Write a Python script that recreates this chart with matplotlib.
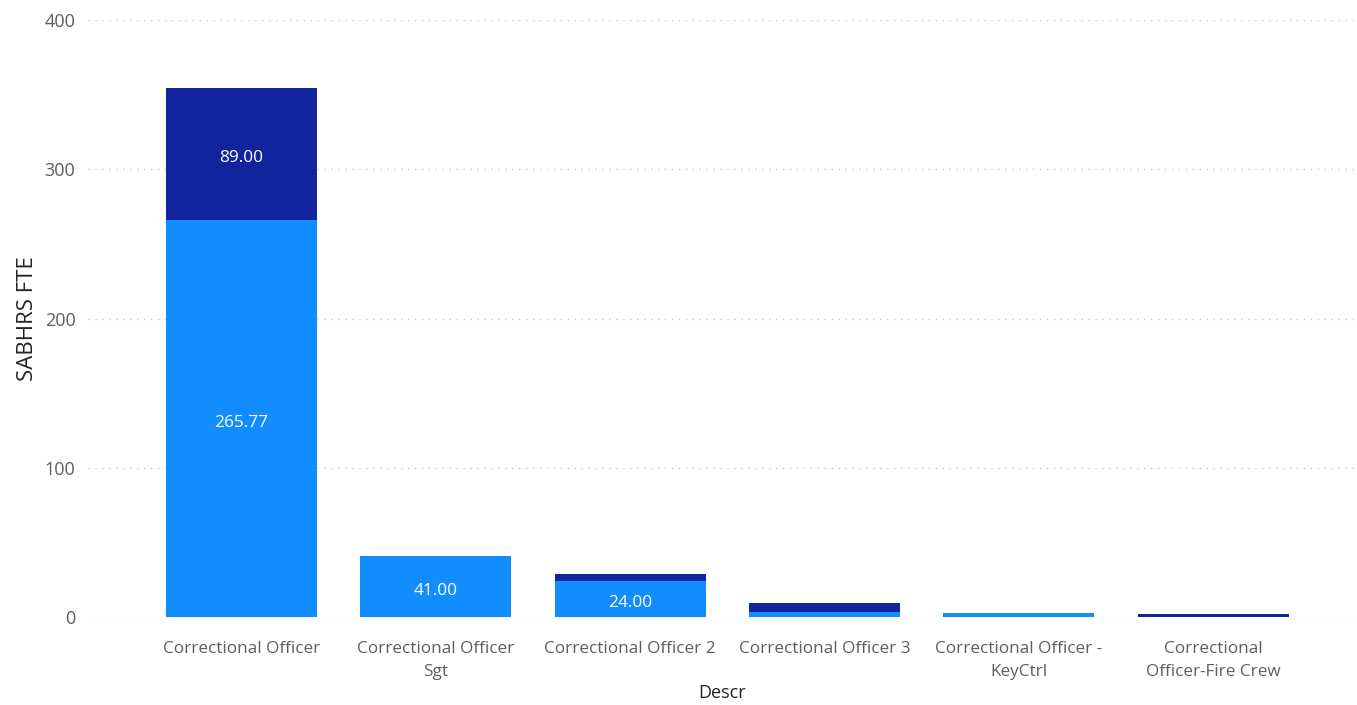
import numpy as np
import matplotlib.pyplot as plt

plt.rcParams['font.family'] = ['Open Sans', 'DejaVu Sans']

categories = ['Correctional Officer', 'Correctional Officer\nSgt', 'Correctional Officer 2',
              'Correctional Officer 3', 'Correctional Officer -\nKeyCtrl', 'Correctional\nOfficer-Fire Crew']
fte_light = [265.77, 41.00, 24.00, 3.5, 3.0, 0.0]
fte_dark = [89.00, 0.0, 5.0, 5.7, 0.0, 2.0]
# only segments big enough get a data label
label_min = 15

light_col = '#118DFF'
dark_col = '#12239E'

fig = plt.figure(figsize=(13.57, 7.05), dpi=100)
ax = fig.add_axes([0.0648, 0.1248, 0.9352, 0.8468])

x = np.arange(len(categories))
w = 0.777
b1 = ax.bar(x, fte_light, w, color=light_col, zorder=2)
b2 = ax.bar(x, fte_dark, w, bottom=fte_light, color=dark_col, zorder=2)

for bars, vals, bottoms in [(b1, fte_light, [0] * len(x)), (b2, fte_dark, fte_light)]:
    for rect, v, b in zip(bars, vals, bottoms):
        if v >= label_min:
            ax.text(rect.get_x() + rect.get_width() / 2, b + v / 2 - 1.5, f'{v:.2f}',
                    ha='center', va='center_baseline', color='white', fontsize=12.4, zorder=3)

ax.set_ylim(0, 400)
ax.set_xlim(-0.79, 5.74)
ax.set_yticks([0, 100, 200, 300, 400])
ax.set_xticks(x)
ax.set_xticklabels(categories, fontsize=12.3, color='#605E5C', linespacing=1.6)
ax.tick_params(axis='y', labelsize=13, labelcolor='#605E5C', length=0, pad=9)
ax.tick_params(axis='x', length=0, pad=17)
ax.grid(axis='y', linestyle=(0, (1, 4)), color='#C8C8C8', linewidth=1, zorder=0)
for s in ax.spines.values():
    s.set_visible(False)

ax.set_xlabel('Descr', fontsize=13, color='#252423', labelpad=3)
ax.set_ylabel('SABHRS FTE', fontsize=16, color='#252423', labelpad=5)

fig.savefig('out.png', dpi=100)
